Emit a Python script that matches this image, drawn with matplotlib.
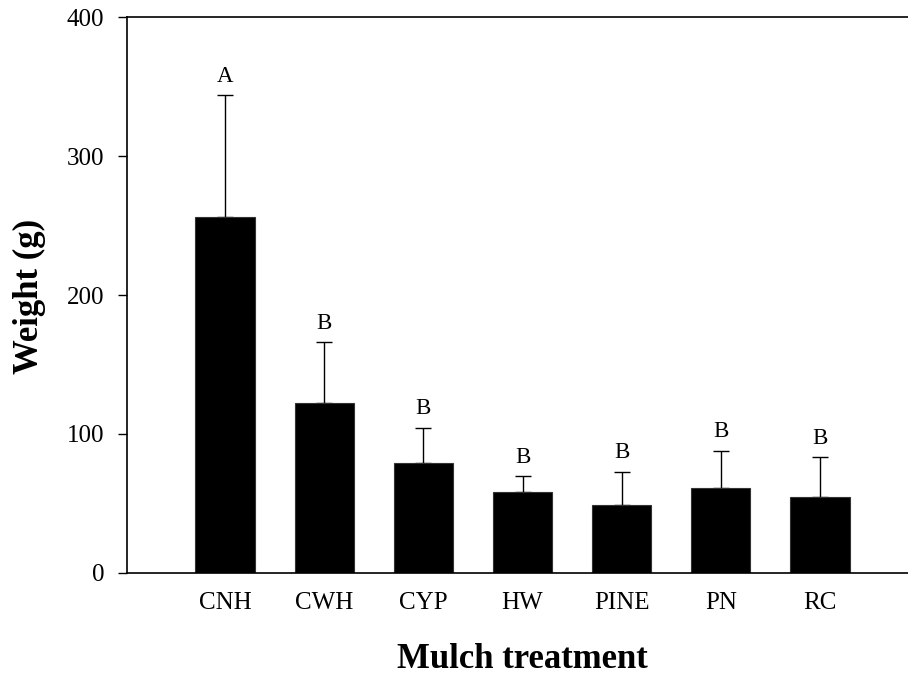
import matplotlib
matplotlib.use("Agg")
import matplotlib.pyplot as plt
import numpy as np

plt.rcParams['font.family'] = ['Liberation Serif', 'DejaVu Serif']

# mulch treatments, mean weight and SE, significance groups
treatments = ["CNH", "CWH", "CYP", "HW", "PINE", "PN", "RC"]
weights = [256, 122, 79, 58.4, 48.5, 61, 54.6]
errors = [88, 44, 25.5, 11.3, 24.2, 27, 28.8]
groups = ["A", "B", "B", "B", "B", "B", "B"]

fig = plt.figure(figsize=(9.08, 6.75), dpi=100)
ax = fig.add_axes([0.14, 0.1516, 0.86, 0.8225])

x = np.arange(len(treatments))
ax.bar(x, weights, width=0.6, color="black", edgecolor="#333333", linewidth=0.8, zorder=2)
ax.errorbar(x, weights, yerr=[np.zeros(len(errors)), errors], fmt="none",
            ecolor="black", elinewidth=1.0, capsize=6, capthick=1.0, zorder=1)

for xi, w, e, g in zip(x, weights, errors, groups):
    ax.annotate(g, (xi, w + e), xytext=(0, 6), textcoords="offset points",
                ha="center", va="bottom", fontsize=16.5)

ax.set_xlim(-0.99, 6.89)
ax.set_ylim(0, 400)
ax.set_yticks([0, 100, 200, 300, 400])
ax.set_xticks(x)
ax.set_xticklabels(treatments)

ax.spines["right"].set_visible(False)
for s in ["left", "top", "bottom"]:
    ax.spines[s].set_linewidth(1.2)

ax.tick_params(axis="x", length=0, pad=14, labelsize=18)
ax.tick_params(axis="y", direction="out", length=6.5, width=1.0, pad=10, labelsize=18)

ax.set_xlabel("Mulch treatment", fontsize=25, fontweight="bold", va="baseline")
ax.xaxis.set_label_coords(0.506, -0.1717)
ax.set_ylabel("Weight (g)", fontsize=25, fontweight="bold", va="center")
ax.yaxis.set_label_coords(-0.1255, 0.497)

fig.savefig("out.png", dpi=100)
